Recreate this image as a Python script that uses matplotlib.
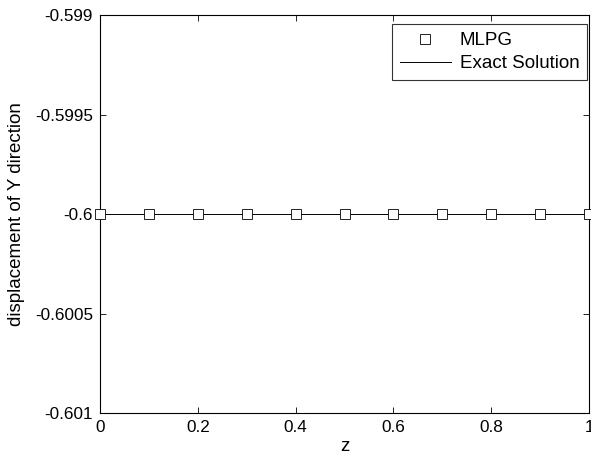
import matplotlib
matplotlib.use("Agg")
import matplotlib.pyplot as plt

plt.rcParams['font.family'] = ['Liberation Sans', 'DejaVu Sans']

z_mlpg = [0, 0.1, 0.2, 0.3, 0.4, 0.5, 0.6, 0.7, 0.8, 0.9, 1.0]
disp_mlpg = [-0.6] * 11
z_exact = [0, 1.0]
disp_exact = [-0.6, -0.6]
xticks = [0, 0.2, 0.4, 0.6, 0.8, 1]
xticklabels = ['0', '0.2', '0.4', '0.6', '0.8', '1']
yticks = [-0.601, -0.6005, -0.6, -0.5995, -0.599]
yticklabels = ['-0.601', '-0.6005', '-0.6', '-0.5995', '-0.599']

fig = plt.figure(figsize=(5.91, 4.57), dpi=100)
ax = fig.add_axes([100/591, 1-413/457, 489/591, 398/457])

ax.plot(z_mlpg, disp_mlpg, linestyle='none', marker='s', markersize=6.5,
        markerfacecolor='white', markeredgecolor='black', markeredgewidth=0.6,
        label='MLPG', clip_on=False, zorder=3)
ax.plot(z_exact, disp_exact, color='black', linewidth=0.7, label='Exact Solution', zorder=2)

ax.set_xlim(0, 1)
ax.set_ylim(-0.601, -0.599)
ax.set_xticks(xticks)
ax.set_xticklabels(xticklabels)
ax.set_yticks(yticks)
ax.set_yticklabels(yticklabels)
ax.tick_params(direction='in', top=True, right=True, labelsize=12.3, length=4, width=0.6, pad=5)
for s in ax.spines.values():
    s.set_linewidth(0.8)

ax.set_xlabel('z', fontsize=13.5, labelpad=2.5)
ax.set_ylabel('displacement of Y direction', fontsize=13.5, labelpad=7)

leg = ax.legend(loc='upper left', bbox_to_anchor=(0.597, 0.5, 0.399, 0.477),
                mode='expand', fontsize=13.5, frameon=True, fancybox=False,
                edgecolor='black', borderpad=0.43, handlelength=2.7,
                labelspacing=0.3, handletextpad=0.5, borderaxespad=0)
leg.get_frame().set_linewidth(0.8)

fig.savefig('out.png', dpi=100)
